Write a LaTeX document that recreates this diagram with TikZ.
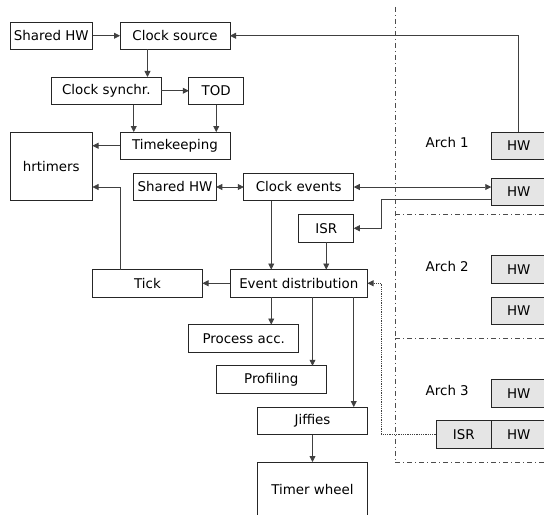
\documentclass[tikz,border=0pt]{standalone}
\usepackage{fontspec}
\setmainfont{DejaVu Sans}
\usetikzlibrary{arrows.meta, positioning}

\tikzset{
  >={Triangle[length=6pt,width=6pt]},
  block/.style={draw=black!85, line width=0.8pt, minimum width=110pt, minimum height=27.5pt, inner sep=1pt, outer sep=0pt, anchor=north west},
  hwblock/.style={block, fill=black!10, minimum width=55pt},
  link/.style={draw=black!75, line width=0.8pt, ->},
  archline/.style={draw=black!70, line width=0.8pt, dash pattern=on 5pt off 3pt on 1pt off 3pt},
}

\begin{document}
\begin{tikzpicture}[x=27.5pt, y=-27.5pt, node distance=27.5pt, font=\fontsize{13.4}{16}\selectfont]
\useasboundingbox (-0.3636,-0.8) rectangle (19.418,17.891);
\clip (-0.3636,-0.8) rectangle (19.418,17.891);

% arch separators
\draw[archline] (14,-0.55) -- (14,16);
\foreach \v in {7,11.5,16} \draw[archline] (14,\v) -- (19.5,\v);

% timekeeping side
\node[block, minimum width=82.5pt] (shwa) at (0,0) {Shared HW};
\node[block, right=of shwa] (csrc) {Clock source};
\node[block] (csync) at (1.5,2) {Clock synchr.};
\node[block, minimum width=55pt, right=of csync] (tod) {TOD};
\node[block] (tkeep) at (4,4) {Timekeeping};
\node[block, minimum width=82.5pt, minimum height=68.75pt] (hrt) at (0,4) {hrtimers};

% clock events side
\node[block, minimum width=82.5pt] (shwb) at (4.5,5.5) {Shared HW};
\node[block, right=of shwb] (cev) {Clock events};
\node[block, minimum width=55pt] (isra) at (10.5,7) {ISR};
\node[block, minimum width=137.5pt] (evd) at (8,9) {Event distribution};
\node[block, left=of evd] (tick) {Tick};
\node[block] (pacc) at (6.5,11) {Process acc.};
\node[block] (prof) at (7.5,12.5) {Profiling};
\node[block] (jiff) at (9,14) {Jiffies};
\node[block, minimum height=55pt] (twh) at (9,16) {Timer wheel};

% arch hardware
\node[hwblock] (hwa) at (17.5,4) {HW};
\node[hwblock] (hwb) at (17.5,5.67) {HW};
\node[hwblock] (hwc) at (17.5,8.5) {HW};
\node[hwblock] (hwd) at (17.5,10) {HW};
\node[hwblock] (hwe) at (17.5,13) {HW};
\node[hwblock] (hwf) at (17.5,14.5) {HW};
\node[hwblock, left=0pt of hwf] (isrb) {ISR};
\node (arch1) at (15.9,4.4) {Arch 1};
\node (arch2) at (15.9,8.9) {Arch 2};
\node (arch3) at (15.9,13.4) {Arch 3};

% connectors
\draw[link] (shwa) -- (csrc);
\draw[link] (hwa.north) |- (csrc.east);
\draw[link] ([xshift=-27.5pt]csrc.south) -- ([xshift=-27.5pt]csrc.south |- csync.north);
\draw[link] (csync) -- (tod);
\draw[link] ([xshift=27.5pt]csync.south) -- ([xshift=27.5pt]csync.south |- tkeep.north);
\draw[link] (tod.south) -- (tod.south |- tkeep.north);
\draw[link] (tkeep.west) -- (tkeep.west -| hrt.east);
\draw[link, <->] (shwb) -- (cev);
\draw[link, <->] (cev.east) -- (cev.east -| hwb.west);
\draw[link] ([yshift=-8pt]hwb.west) -- ++(-4,0) |- (isra.east);
\draw[link] ([xshift=-27.5pt]cev.south) -- ([xshift=-27.5pt]cev.south |- evd.north);
\draw[link] (isra.south) -- (isra.south |- evd.north);
\draw[link] (evd) -- (tick);
\draw[link] ([xshift=-27.5pt]tick.north) |- ([yshift=13.75pt]hrt.south east);
\draw[link] ([xshift=-27.5pt]evd.south) -- ([xshift=-27.5pt]evd.south |- pacc.north);
\draw[link] ([xshift=13.75pt]evd.south) -- ([xshift=13.75pt]evd.south |- prof.north);
\draw[link] ([xshift=55pt]evd.south) -- ([xshift=55pt]evd.south |- jiff.north);
\draw[link] (jiff) -- (twh);
\draw[link, densely dotted] (isrb.west) -- ++(-2,0) |- (evd.east);
\end{tikzpicture}
\end{document}
